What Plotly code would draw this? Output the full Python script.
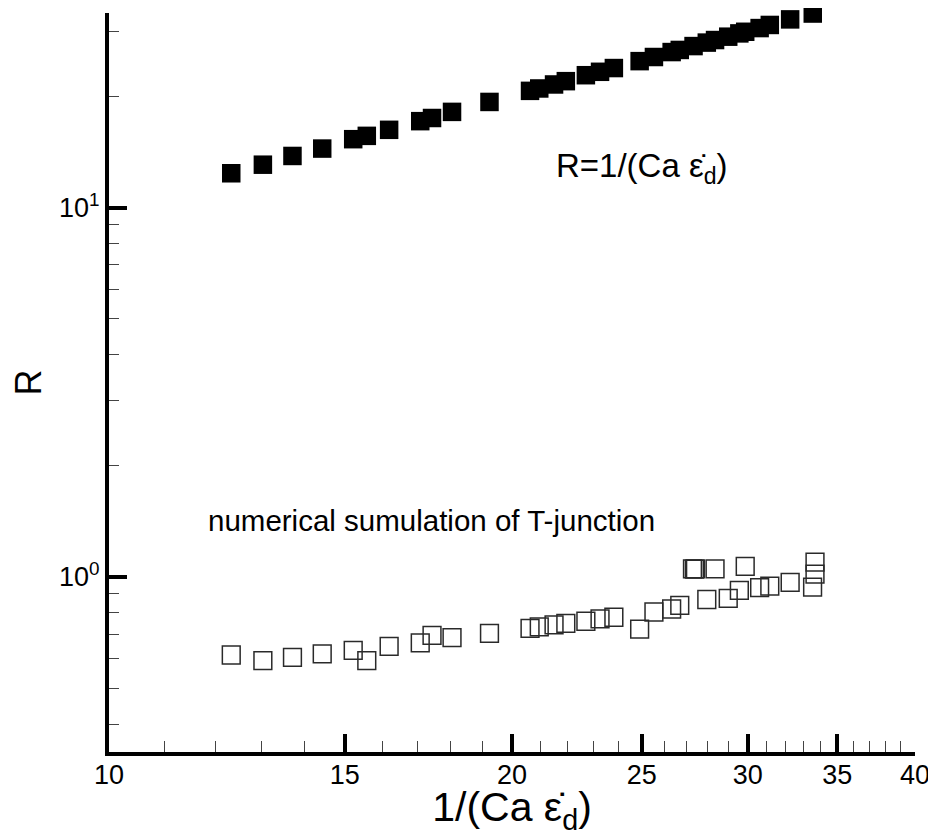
import plotly.graph_objects as go

# ---- data ----
x_theory = [12.34, 13.03, 13.71, 14.43, 15.22, 15.58, 16.19, 17.08, 17.43, 18.04,
            19.24, 20.63, 20.96, 21.50, 21.94, 22.71, 23.27, 23.83, 24.91, 25.53,
            26.32, 26.69, 27.33, 27.96, 28.36, 29.01, 29.57, 29.87, 30.62, 31.16,
            32.27, 33.55]
R_theory = [12.38, 13.06, 13.79, 14.44, 15.31, 15.63, 16.23, 17.13, 17.47, 18.15,
            19.31, 20.69, 21.00, 21.53, 21.98, 22.81, 23.30, 23.85, 24.90, 25.55,
            26.35, 26.70, 27.35, 27.95, 28.40, 29.00, 29.60, 29.90, 30.60, 31.20,
            32.30, 33.50]

x_sim = [12.34, 13.03, 13.71, 14.43, 15.22, 15.58, 16.19, 17.08, 17.43, 18.04,
         19.24, 20.63, 20.96, 21.50, 21.94, 22.71, 23.27, 23.83, 24.91, 25.53,
         26.32, 26.69, 27.28, 27.37, 27.42, 27.96, 28.36, 29.01, 29.57, 29.87,
         30.62, 31.16, 32.27, 33.54, 33.68, 33.68]
R_sim = [0.615, 0.594, 0.606, 0.619, 0.633, 0.594, 0.649, 0.663, 0.695, 0.685,
         0.704, 0.726, 0.733, 0.742, 0.749, 0.759, 0.770, 0.778, 0.723, 0.804,
         0.819, 0.838, 1.052, 1.050, 1.052, 0.869, 1.052, 0.875, 0.920, 1.069,
         0.936, 0.945, 0.967, 0.939, 1.018, 1.097]

x_major = [10, 15, 20, 25, 30, 35, 40]
x_labels = ["10", "15", "20", "25", "30", "35", "40"]
x_minor = [v for v in range(11, 40) if v % 5 != 0]
y_major = [1, 10]
y_labels = ["10<sup>0</sup>", "10<sup>1</sup>"]
y_minor = [0.4, 0.5, 0.6, 0.7, 0.8, 0.9, 2, 3, 4, 5, 6, 7, 8, 9, 20, 30]

FONT = "Liberation Sans, Arial, sans-serif"

fig = go.Figure()
fig.add_trace(go.Scatter(
    x=x_theory, y=R_theory, mode="markers", cliponaxis=False,
    marker=dict(symbol="square", size=18.5, color="black", line=dict(width=0)),
    showlegend=False))
fig.add_trace(go.Scatter(
    x=x_sim, y=R_sim, mode="markers", cliponaxis=False,
    marker=dict(symbol="square", size=17.8, color="rgba(0,0,0,0)",
                line=dict(width=1.5, color="#2a2a2a")),
    showlegend=False))

fig.add_annotation(x=0.552, y=0.79, xref="paper", yref="paper",
                   text="R=1/(Ca ε̇<sub>d</sub>)", showarrow=False,
                   xanchor="left", yanchor="middle",
                   font=dict(family=FONT, size=33, color="black"))
fig.add_annotation(x=0.120, y=0.313, xref="paper", yref="paper",
                   text="numerical sumulation of T-junction", showarrow=False,
                   xanchor="left", yanchor="middle",
                   font=dict(family=FONT, size=29.5, color="black"))

fig.update_xaxes(
    type="log", range=[1, 1.60206],
    showline=True, linewidth=4, linecolor="black", mirror=False,
    showgrid=False, zeroline=False,
    tickmode="array", tickvals=x_major, ticktext=x_labels,
    ticks="inside", ticklen=18, tickwidth=4, tickcolor="black",
    tickfont=dict(family=FONT, size=27, color="black"),
    minor=dict(tickmode="array", tickvals=x_minor, ticks="inside",
               ticklen=11, tickwidth=1, tickcolor="#444", showgrid=False),
    title=dict(text="1/(Ca ε̇<sub>d</sub>)", standoff=4,
               font=dict(family=FONT, size=41, color="black")),
)
try:
    fig.update_xaxes(ticklabelstandoff=-4)
except Exception:
    pass

fig.update_yaxes(
    type="log", range=[-0.4737, 1.5265],
    showline=True, linewidth=4, linecolor="black", mirror=False,
    showgrid=False, zeroline=False,
    tickmode="array", tickvals=y_major, ticktext=y_labels,
    ticks="inside", ticklen=18, tickwidth=4, tickcolor="black",
    tickfont=dict(family=FONT, size=27, color="black"),
    minor=dict(tickmode="array", tickvals=y_minor, ticks="inside",
               ticklen=10, tickwidth=1, tickcolor="#444", showgrid=False),
    title=dict(text="R", standoff=12,
               font=dict(family=FONT, size=36, color="black")),
)

# the page body adds an 8px margin, so the figure is 8px smaller and shifted
fig.update_layout(
    width=928, height=828, autosize=False,
    margin=dict(l=101, r=21, t=5, b=84, autoexpand=False),
    paper_bgcolor="white", plot_bgcolor="white",
    font=dict(family=FONT, color="black"),
)

fig.write_html("out.html")
